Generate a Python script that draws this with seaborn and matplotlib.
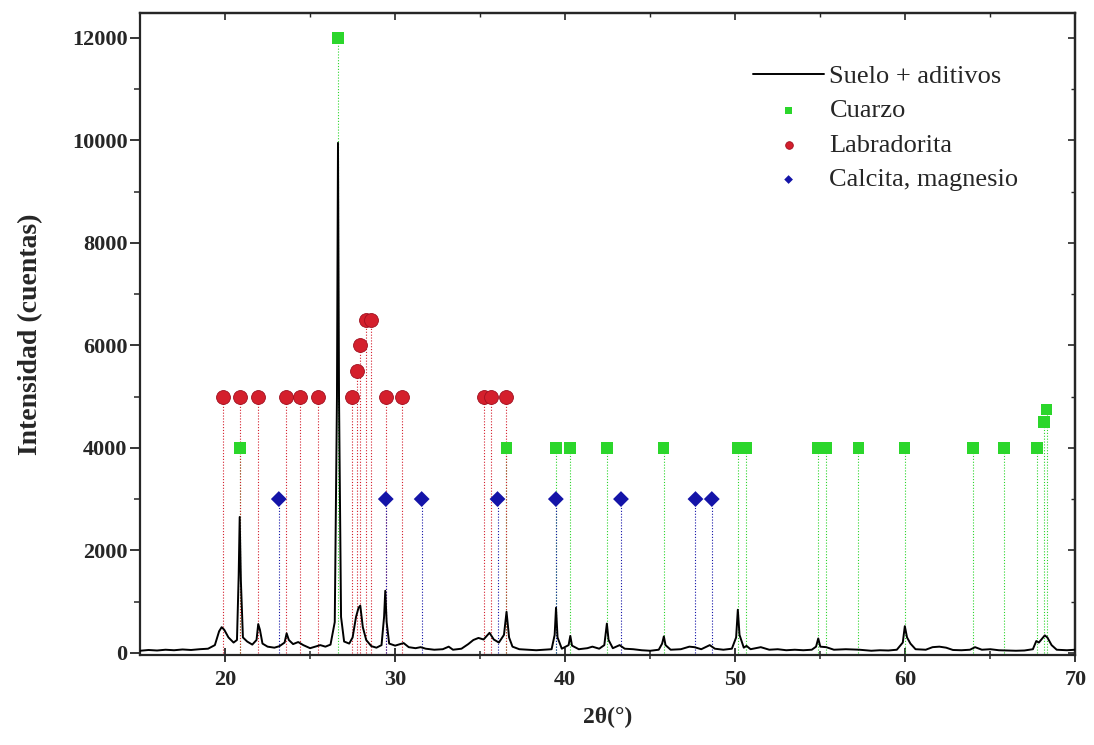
import matplotlib
matplotlib.use("Agg")
import matplotlib.pyplot as plt
import seaborn as sns
import pandas as pd

# XRD pattern (2theta in degrees, counts)
two_theta = [15.0, 15.5, 16.0, 16.5, 17.0, 17.5, 18.0, 18.5, 19.0, 19.4, 19.65, 19.8,
             19.95, 20.2, 20.5, 20.7, 20.8, 20.86, 20.93, 21.05, 21.3, 21.6, 21.85, 21.95,
             22.05, 22.2, 22.5, 22.9, 23.2, 23.5, 23.62, 23.75, 24.0, 24.3, 24.6, 25.0,
             25.3, 25.6, 25.9, 26.2, 26.45, 26.58, 26.64, 26.7, 26.82, 27.0, 27.3, 27.5,
             27.7, 27.85, 27.95, 28.1, 28.3, 28.6, 28.9, 29.2, 29.35, 29.42, 29.5, 29.65,
             30.0, 30.3, 30.5, 30.8, 31.2, 31.5, 31.8, 32.3, 32.8, 33.15, 33.4, 33.9,
             34.3, 34.6, 34.9, 35.2, 35.55, 35.8, 36.1, 36.4, 36.55, 36.7, 36.9, 37.3,
             37.8, 38.3, 38.8, 39.2, 39.38, 39.46, 39.55, 39.8, 40.2, 40.3, 40.4, 40.8,
             41.3, 41.6, 42.0, 42.3, 42.45, 42.55, 42.8, 43.2, 43.5, 44.0, 44.5, 45.0,
             45.5, 45.7, 45.8, 45.9, 46.2, 46.8, 47.3, 47.6, 48.0, 48.5, 48.8, 49.3,
             49.8, 50.05, 50.15, 50.25, 50.5, 50.66, 50.9, 51.5, 52.0, 52.5, 53.0, 53.5,
             54.0, 54.5, 54.75, 54.88, 55.0, 55.35, 55.8, 56.5, 57.3, 58.0, 58.5, 59.0,
             59.5, 59.85, 59.97, 60.1, 60.3, 60.6, 61.2, 61.6, 62.0, 62.4, 62.8, 63.3,
             63.8, 64.1, 64.5, 65.0, 65.5, 66.0, 66.5, 67.0, 67.5, 67.7, 67.85, 68.0,
             68.2, 68.35, 68.6, 68.9, 69.5, 70.0]
counts = [40, 55, 45, 60, 50, 65, 55, 70, 80, 150, 420, 500,
          450, 300, 200, 250, 1500, 2650, 1400, 300, 220, 160, 250, 560,
          450, 180, 120, 100, 130, 200, 380, 250, 170, 210, 150, 90,
          120, 150, 120, 160, 600, 5000, 9950, 5000, 700, 220, 180, 300,
          700, 880, 920, 500, 250, 130, 100, 150, 700, 1210, 600, 180,
          140, 170, 190, 110, 90, 110, 80, 60, 70, 120, 60, 80,
          170, 250, 290, 260, 390, 260, 200, 350, 800, 300, 120, 70,
          60, 50, 60, 70, 350, 880, 300, 80, 150, 330, 140, 70,
          90, 120, 80, 150, 570, 250, 90, 150, 80, 70, 50, 40,
          60, 180, 320, 150, 60, 70, 120, 110, 70, 150, 80, 60,
          80, 300, 840, 350, 100, 135, 70, 110, 60, 70, 50, 60,
          50, 60, 120, 280, 120, 110, 60, 70, 60, 40, 50, 45,
          60, 200, 520, 300, 180, 70, 60, 110, 120, 100, 55, 50,
          60, 110, 60, 70, 50, 45, 40, 45, 70, 230, 200, 260,
          340, 300, 150, 60, 50, 60]

# phase reference marks (position, marker height)
cuarzo_x = [20.86, 26.64, 36.54, 39.46, 40.29, 42.45, 45.79, 50.14, 50.62, 54.87,
            55.33, 57.24, 59.96, 63.99, 65.79, 67.74, 68.14, 68.31]
cuarzo_y = [4000, 12000, 4000, 4000, 4000, 4000, 4000, 4000, 4000, 4000,
            4000, 4000, 4000, 4000, 4000, 4000, 4500, 4750]
labra_x = [19.88, 20.86, 21.93, 23.59, 24.43, 25.45, 27.44, 27.78, 27.95, 28.3,
           28.6, 29.45, 30.43, 35.22, 35.61, 36.54]
labra_y = [5000, 5000, 5000, 5000, 5000, 5000, 5000, 5500, 6000, 6500,
           6500, 5000, 5000, 5000, 5000, 5000]
calcita_x = [23.16, 29.45, 31.56, 36.02, 39.45, 43.28, 47.66, 48.62]
calcita_y = [3000, 3000, 3000, 3000, 3000, 3000, 3000, 3000]

sns.set_style("ticks")
plt.rcParams['font.family'] = ['Liberation Serif', 'DejaVu Serif']

fig = plt.figure(figsize=(10.94, 7.45), dpi=100)
ax = fig.add_axes([0.128, 0.121, 0.855, 0.862])

green = '#2bd62b'
red = '#d41f2c'
blue = '#1414a8'
dots = (0, (1, 1.6))

ax.vlines(cuarzo_x, 0, cuarzo_y, colors=green, linestyles=dots, linewidth=0.8, zorder=1)
ax.vlines(labra_x, 0, labra_y, colors=red, linestyles=dots, linewidth=0.8, zorder=1)
ax.vlines(calcita_x, 0, calcita_y, colors=blue, linestyles=dots, linewidth=0.8, zorder=1)

df = pd.DataFrame({'x': two_theta, 'y': counts})
sns.lineplot(data=df, x='x', y='y', color='black', linewidth=1.4, ax=ax,
             label='Suelo + aditivos', zorder=3, estimator=None, sort=False)

sns.scatterplot(x=cuarzo_x, y=cuarzo_y, marker='s', s=70, color=green, edgecolor='none',
                ax=ax, label='Cuarzo', zorder=4)
sns.scatterplot(x=labra_x, y=labra_y, marker='o', s=100, color=red, edgecolor='#a01020',
                linewidth=0.6, ax=ax, label='Labradorita', zorder=4)
sns.scatterplot(x=calcita_x, y=calcita_y, marker='D', s=65, color=blue, edgecolor='none',
                ax=ax, label='Calcita, magnesio', zorder=4)

ax.set_xlim(15, 70)
ax.set_ylim(-40, 12490)
xmaj = [20, 30, 40, 50, 60, 70]
xmin = [25, 35, 45, 55, 65]
ymaj = list(range(0, 12001, 2000))
ymin = list(range(1000, 12000, 2000))
ax.set_xticks(xmaj)
ax.set_xticks(xmin, minor=True)
ax.set_yticks(ymaj)
ax.set_yticks(ymin, minor=True)

for s in ax.spines.values():
    s.set_linewidth(1.6)
    s.set_visible(True)

ax.tick_params(axis='x', which='major', direction='inout', length=10, width=1.3,
               labelsize=16, pad=6)
ax.tick_params(axis='x', which='minor', direction='inout', length=6, width=1.1)
ax.tick_params(axis='y', which='major', direction='out', length=7, width=1.3,
               labelsize=16, pad=2)
ax.tick_params(axis='y', which='minor', direction='out', length=4, width=1.1)
for lab in ax.get_xticklabels() + ax.get_yticklabels():
    lab.set_fontweight('bold')

# mirrored inward ticks on top and right
top = ax.secondary_xaxis('top')
top.set_xticks(xmaj)
top.set_xticks(xmin, minor=True)
top.tick_params(which='major', direction='in', length=5, width=1.2, labeltop=False)
top.tick_params(which='minor', direction='in', length=3, width=1.0)
right = ax.secondary_yaxis('right')
right.set_yticks(ymaj)
right.set_yticks(ymin, minor=True)
right.tick_params(which='major', direction='in', length=5, width=1.2, labelright=False)
right.tick_params(which='minor', direction='in', length=3, width=1.0)
for sec in (top, right):
    for s in sec.spines.values():
        s.set_linewidth(1.6)

ax.set_xlabel('2θ(°)', fontsize=17, fontweight='bold', labelpad=12)
ax.set_ylabel('Intensidad (cuentas)', fontsize=20, fontweight='bold', labelpad=21)

leg = ax.legend(loc='upper left', bbox_to_anchor=(0.644, 0.936), frameon=False,
                fontsize=19, handlelength=2.7, handletextpad=0.2, labelspacing=0.42,
                markerscale=0.55, borderaxespad=0)

fig.savefig('out.png', dpi=100)
